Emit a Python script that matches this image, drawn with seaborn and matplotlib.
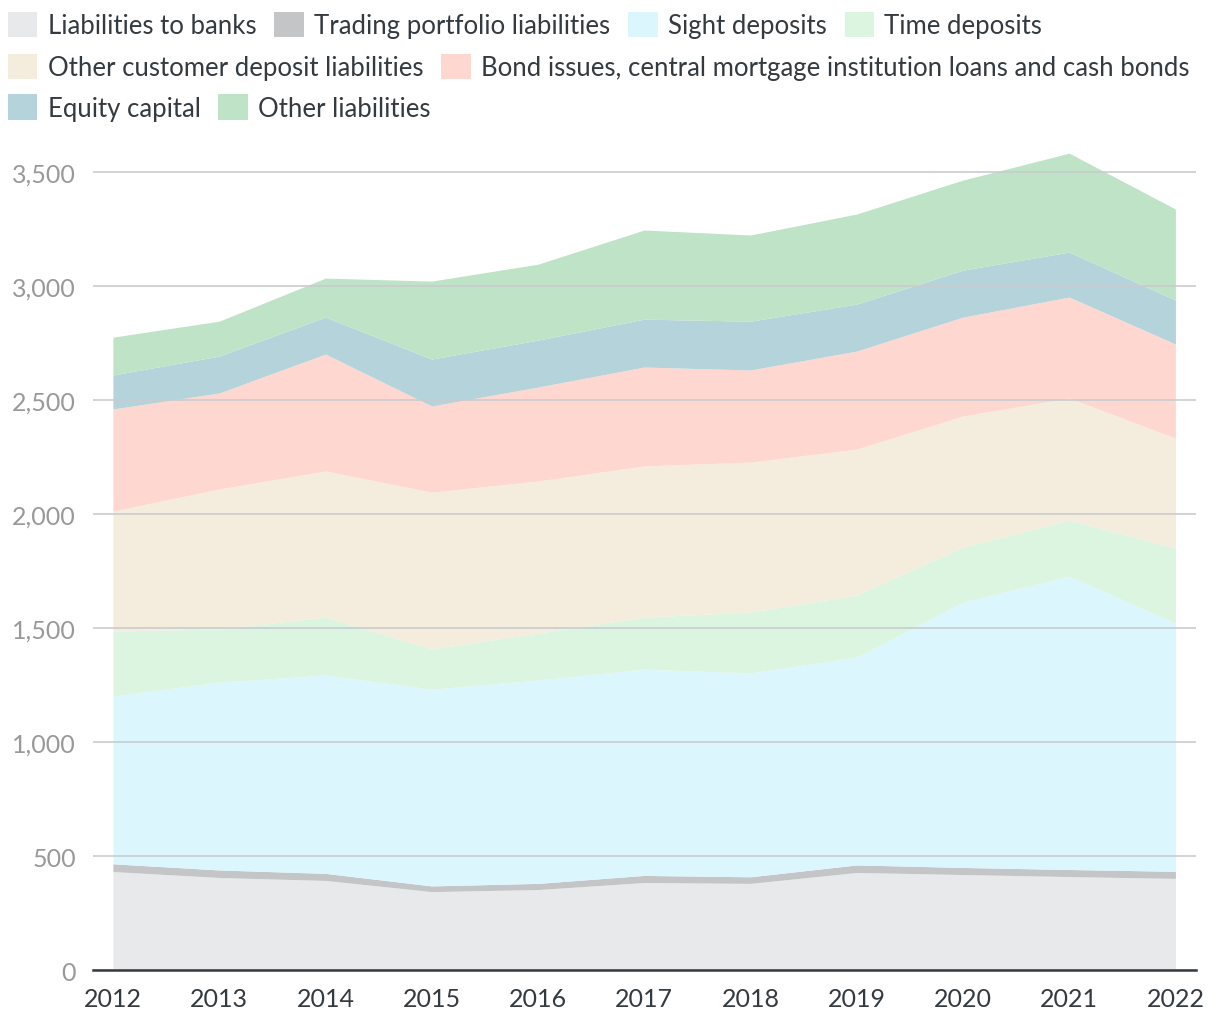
import numpy as np
import pandas as pd
import matplotlib
matplotlib.use("Agg")
import matplotlib.pyplot as plt
import seaborn as sns
from matplotlib.patches import Patch

sns.set_theme(style="white")
plt.rcParams['font.family'] = ['Lato', 'DejaVu Sans']

years = [2012, 2013, 2014, 2015, 2016, 2017, 2018, 2019, 2020, 2021, 2022]
banks = [432, 406, 393, 344, 353, 384, 380, 428, 419, 410, 402]
trading = [34, 33, 31, 25, 27, 31, 29, 33, 31, 31, 31]
sight = [736, 824, 870, 863, 892, 905, 894, 912, 1164, 1287, 1089]
time_dep = [285, 233, 254, 176, 206, 228, 267, 272, 241, 246, 329]
other_cust = [526, 614, 641, 688, 667, 663, 658, 640, 575, 535, 482]
bonds = [448, 421, 513, 378, 412, 434, 404, 430, 434, 443, 413]
equity = [149, 162, 162, 206, 206, 210, 214, 206, 206, 197, 193]
other_liab = [166, 153, 171, 342, 333, 391, 378, 395, 395, 434, 399]

labels = ["Liabilities to banks", "Trading portfolio liabilities", "Sight deposits",
          "Time deposits", "Other customer deposit liabilities",
          "Bond issues, central mortgage institution loans and cash bonds",
          "Equity capital", "Other liabilities"]
colors = ["#e8e9eb", "#c4c5c7", "#dcf6fd", "#dbf5e0", "#f4ecdd", "#fed8d0",
          "#b4d3da", "#bfe3c6"]

df = pd.DataFrame({"year": years, labels[0]: banks, labels[1]: trading,
                   labels[2]: sight, labels[3]: time_dep, labels[4]: other_cust,
                   labels[5]: bonds, labels[6]: equity, labels[7]: other_liab})

fig = plt.figure(figsize=(12.2, 10.2), dpi=100)
ax = fig.add_axes([0.076, 0.048, 0.904, 0.827])

ax.stackplot(df["year"], [df[l] for l in labels], colors=colors, linewidth=0, zorder=1)

ax.set_xlim(2011.81, 2022.19)
ax.set_ylim(0, 3700)
ax.set_yticks([0, 500, 1000, 1500, 2000, 2500, 3000, 3500])
ax.set_yticklabels(["0", "500", "1,000", "1,500", "2,000", "2,500", "3,000", "3,500"])
ax.set_xticks(years)
ax.set_xticklabels([str(y) for y in years])
ax.tick_params(axis='y', length=0, labelsize=18, labelcolor="#999999", pad=12)
ax.tick_params(axis='x', length=0, labelsize=18, labelcolor="#333a40", pad=12)

ax.grid(axis='y', color="#c9cccf", linewidth=1.2, zorder=3)
ax.set_axisbelow(False)
for s in ["top", "right", "left"]:
    ax.spines[s].set_visible(False)
ax.spines["bottom"].set_color("#333a40")
ax.spines["bottom"].set_linewidth(1.8)
ax.spines["bottom"].set_zorder(4)

rows = [[0, 1, 2, 3], [4, 5], [6, 7]]
ys = [0.995, 0.954, 0.914]
for row, y in zip(rows, ys):
    handles = [Patch(facecolor=colors[i], edgecolor="none", label=labels[i]) for i in row]
    leg = fig.legend(handles=handles, loc="upper left", bbox_to_anchor=(0.0, y),
                     ncol=len(row), frameon=False, fontsize=18.5, handlelength=1.15,
                     handleheight=1.15, handletextpad=0.4, columnspacing=0.7,
                     borderaxespad=0, borderpad=0.3)
    for t in leg.get_texts():
        t.set_color("#333a40")

fig.savefig("out.png", dpi=100)
